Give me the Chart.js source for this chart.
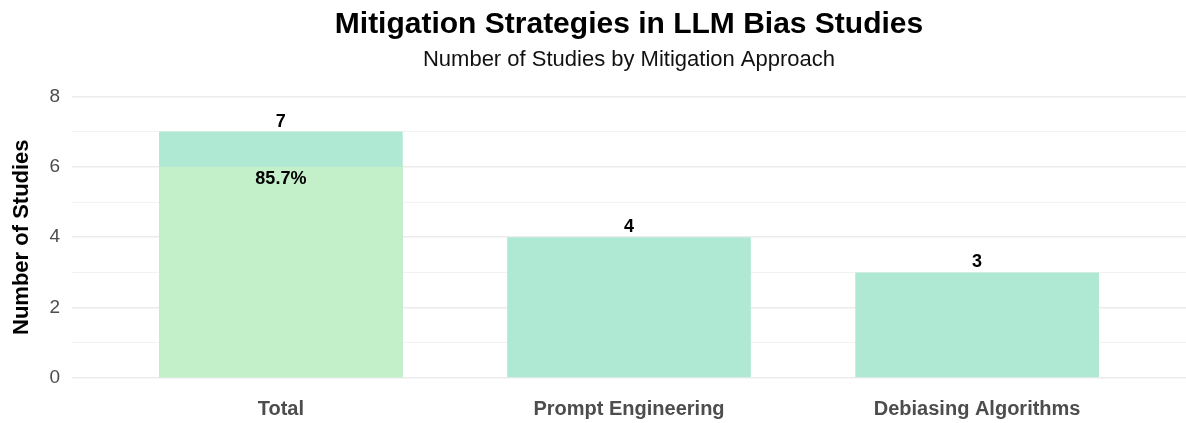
<!DOCTYPE html>
<html>
<head>
<meta charset="utf-8">
<script src="https://cdn.jsdelivr.net/npm/chart.js@4"></script>
<style>
  html, body { margin: 0; padding: 0; background: #fff; }
  #wrap { width: 1186px; height: 423px; }
</style>
</head>
<body>
<div id="wrap"><canvas id="chart"></canvas></div>
<script>
// datos
const categorias = ["Total", "Prompt Engineering", "Debiasing Algorithms"];
const estudios = [7, 4, 3];
const subconjunto = [6, null, null];      // parte verde dentro de Total
const etiquetaPct = ["85.7%", null, null];
const ticksY = [0, 2, 4, 6, 8];

const FONT = "'Liberation Sans', Arial, Helvetica, sans-serif";

const puntos = estudios.map((v, i) => ({ x: i + 1, y: v }));
const puntosSub = subconjunto
  .map((v, i) => (v == null ? null : { x: i + 1, y: v }))
  .filter(p => p);

// etiquetas encima de las barras
const etiquetas = {
  id: "etiquetas",
  afterDatasetsDraw(chart) {
    const ctx = chart.ctx;
    const metaTotal = chart.getDatasetMeta(1);
    const metaSub = chart.getDatasetMeta(0);
    ctx.save();
    ctx.fillStyle = "#000";
    ctx.textAlign = "center";
    ctx.textBaseline = "middle";
    ctx.font = "bold 18px " + FONT;
    metaTotal.data.forEach((bar, i) => {
      ctx.fillText(String(estudios[i]), bar.x, bar.y - 10);
    });
    metaSub.data.forEach((bar, i) => {
      const txt = etiquetaPct[puntosSub[i].x - 1];
      if (txt) ctx.fillText(txt, bar.x, bar.y + 12);
    });
    ctx.restore();
  }
};

new Chart(document.getElementById("chart"), {
  type: "bar",
  data: {
    datasets: [
      {
        label: "Subconjunto",
        data: puntosSub,
        backgroundColor: "#c3efc9",
        grouped: false,
        barPercentage: 0.7,
        categoryPercentage: 1
      },
      {
        label: "Estudios",
        data: puntos,
        backgroundColor: "#b0e9d3",
        grouped: false,
        barPercentage: 0.7,
        categoryPercentage: 1
      }
    ]
  },
  options: {
    responsive: true,
    maintainAspectRatio: false,
    animation: false,
    layout: { padding: 0 },
    plugins: {
      legend: { display: false },
      tooltip: { enabled: false },
      title: {
        display: true,
        fullSize: false,
        text: "Mitigation Strategies in LLM Bias Studies",
        color: "#000",
        font: { family: FONT, size: 30, weight: "bold", lineHeight: 1.2 },
        padding: { top: 7, bottom: 2 }
      },
      subtitle: {
        display: true,
        fullSize: false,
        text: "Number of Studies by Mitigation Approach",
        color: "#111",
        font: { family: FONT, size: 22, lineHeight: 1.2 },
        padding: { top: 2, bottom: 23 }
      }
    },
    scales: {
      x: {
        type: "linear",
        min: 0.4,
        max: 3.6,
        offset: false,
        afterBuildTicks: s => { s.ticks = categorias.map((c, i) => ({ value: i + 1 })); },
        afterFit: s => { s.height = 45; },
        grid: { display: false, drawTicks: false, offset: false },
        border: { display: false },
        ticks: {
          padding: 19,
          color: "#4d4d4d",
          font: { family: FONT, size: 20, weight: "bold" },
          callback: v => categorias[v - 1]
        }
      },
      y: {
        min: 0,
        max: 8,
        afterFit: s => { s.width = 72; },
        grid: {
          drawTicks: false,
          color: ctx => (ctx.tick && ctx.tick.value % 2 === 0 ? "#ebebeb" : "#f2f2f2"),
          lineWidth: ctx => (ctx.tick && ctx.tick.value % 2 === 0 ? 1.5 : 1)
        },
        border: { display: false },
        ticks: {
          stepSize: 1,
          padding: 12,
          color: "#4d4d4d",
          font: { family: FONT, size: 19 },
          callback: v => (ticksY.includes(v) ? String(v) : "")
        },
        title: {
          display: true,
          text: "Number of Studies",
          color: "#000",
          font: { family: FONT, size: 22, weight: "bold", lineHeight: 1.2 },
          padding: { top: 9, bottom: 0 }
        }
      }
    }
  },
  plugins: [etiquetas]
});
</script>
</body>
</html>
